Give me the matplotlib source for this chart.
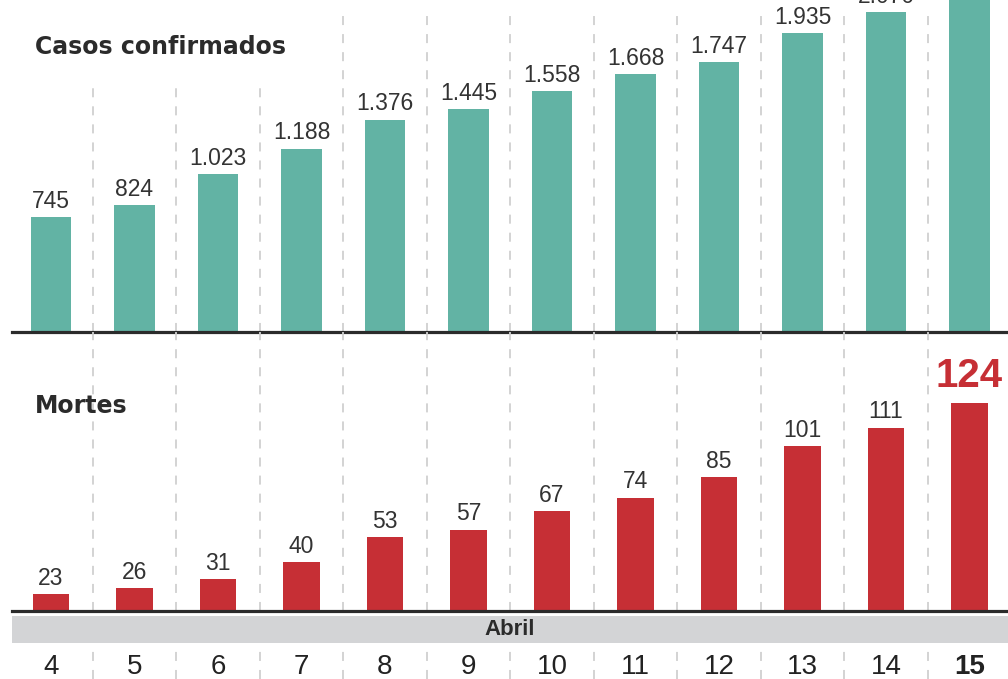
import matplotlib.pyplot as plt

# data
days = [4, 5, 6, 7, 8, 9, 10, 11, 12, 13, 14, 15]
casos = [745, 824, 1023, 1188, 1376, 1445, 1558, 1668, 1747, 1935, 2070, 2250]
mortes = [23, 26, 31, 40, 53, 57, 67, 74, 85, 101, 111, 124]
month = "Abril"

green = "#62b3a4"
red = "#c62f35"
dark = "#2b2b2b"
grid_c = "#d0d0d0"

W, H = 1008, 679
fig = plt.figure(figsize=(W / 100, H / 100), dpi=100)
fig.patch.set_facecolor("white")

def rect(x0, y0, x1, y1):
    # pixel box (from top-left) -> figure fraction
    return [x0 / W, 1 - y1 / H, (x1 - x0) / W, (y1 - y0) / H]

xlim = ((12 - 51) / 83.5, (1008 - 51) / 83.5)
x = list(range(len(days)))
seps = [i + 0.5 for i in x[:-1]]

def fmt(v):
    return f"{v:,}".replace(",", ".")

num_font = ["Liberation Sans", "DejaVu Sans"]
head_font = ["DejaVu Sans"]

def clean(ax):
    ax.set_xlim(*xlim)
    for s in ax.spines.values():
        s.set_visible(False)
    ax.set_xticks([])
    ax.set_yticks([])
    ax.patch.set_alpha(0)

# top panel: confirmed cases
ax1 = fig.add_axes(rect(12, 0, 1008, 332))
clean(ax1)
ax1.set_ylim(0, 2150)
for i, s in enumerate(seps):
    top = 1 - 85 / 332 if i < 3 else 1 - 16 / 332
    ax1.axvline(s, ymin=0, ymax=top, color=grid_c, lw=1.3, ls=(0, (5, 5)), zorder=0)
ax1.bar(x, casos, width=0.48, color=green, zorder=2)
for xi, v in zip(x, casos):
    ax1.annotate(fmt(v), (xi, v), xytext=(0, 3), textcoords="offset points",
                 ha="center", va="bottom", fontsize=16.5, color="#333333",
                 family=num_font, annotation_clip=False)
ax1.axhline(0, color=dark, lw=2.3, zorder=3, clip_on=False)
fig.text(35 / W, 1 - 47 / H, "Casos confirmados", fontsize=17, fontweight="bold",
         color=dark, va="center", ha="left", family=head_font)

# bottom panel: deaths
ax2 = fig.add_axes(rect(12, 332, 1008, 611))
clean(ax2)
ax2.set_ylim(14, 161.5)
for s in seps:
    ax2.axvline(s, color=grid_c, lw=1.3, ls=(0, (5, 5)), zorder=0)
ax2.bar(x, mortes, width=0.44, color=red, zorder=2)
for xi, v in zip(x[:-1], mortes[:-1]):
    ax2.annotate(fmt(v), (xi, v), xytext=(0, 3), textcoords="offset points",
                 ha="center", va="bottom", fontsize=16.5, color="#333333",
                 family=num_font)
ax2.annotate(fmt(mortes[-1]), (x[-1], mortes[-1]), xytext=(0, 6),
             textcoords="offset points", ha="center", va="bottom", fontsize=29,
             fontweight="bold", color=red, family=num_font, annotation_clip=False)
ax2.axhline(14, color=dark, lw=2.3, zorder=3, clip_on=False)
fig.text(35 / W, 1 - 406 / H, "Mortes", fontsize=17, fontweight="bold",
         color=dark, va="center", ha="left", family=head_font)

# month band
axb = fig.add_axes(rect(12, 616, 1008, 643))
clean(axb)
axb.patch.set_alpha(1)
axb.set_facecolor("#d3d4d6")
axb.text(0.5, 0.5, month, transform=axb.transAxes, ha="center", va="center",
         fontsize=16, fontweight="bold", color=dark, family=num_font)

# day labels row
axd = fig.add_axes(rect(12, 646, 1008, 679))
clean(axd)
axd.set_ylim(0, 1)
for s in seps:
    axd.axvline(s, color=grid_c, lw=1.3, ls=(0, (5, 5)), zorder=0)
for xi, d in zip(x, days):
    axd.text(xi, 0.36, str(d), ha="center", va="center", fontsize=20,
             color="#222222", family=num_font,
             fontweight="bold" if d == days[-1] else "normal")

fig.savefig("out.png", dpi=100)
